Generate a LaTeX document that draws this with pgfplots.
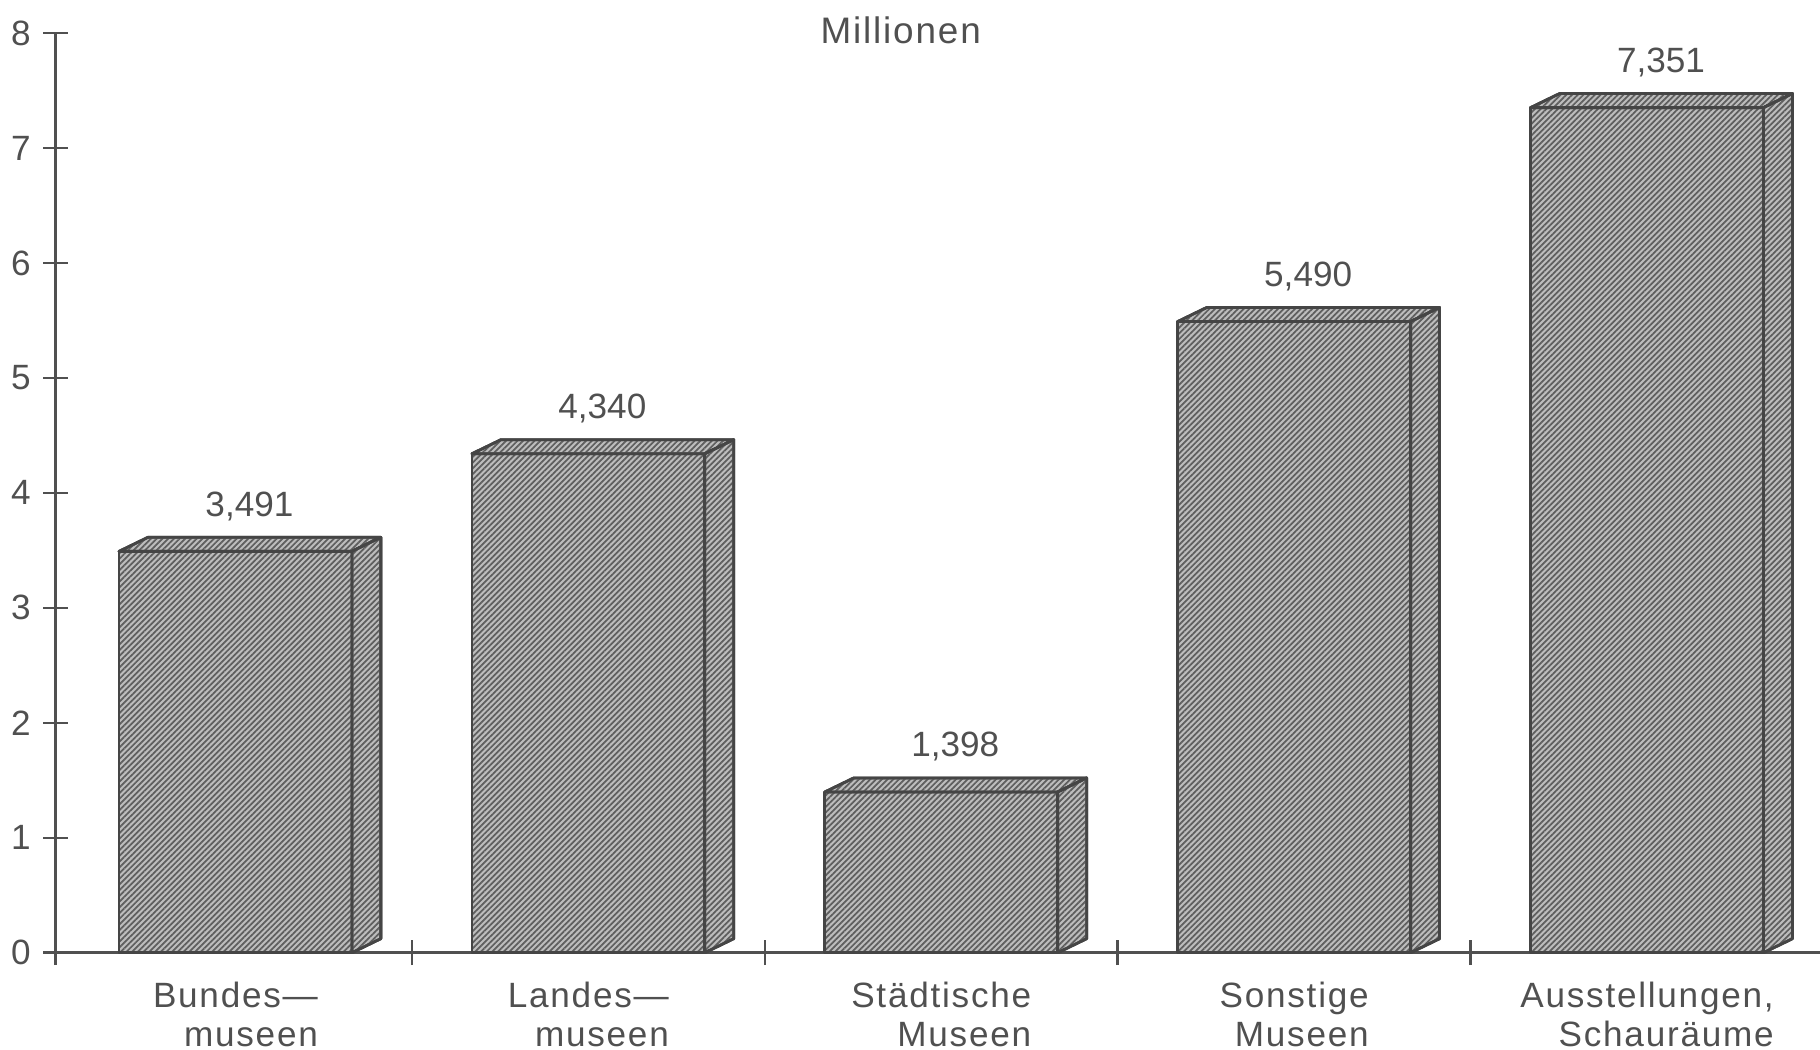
\documentclass[border=0pt]{standalone}
\usepackage{fontspec}
\setmainfont{Liberation Sans}[LetterSpace=5]
\newfontfamily\numfont{Liberation Sans}
\usepackage{pgfplots}
\usepackage{pgfplotstable}
\pgfplotsset{compat=1.18}
\usetikzlibrary{patterns.meta}

\definecolor{ink}{HTML}{505050}
\definecolor{edge}{HTML}{454545}
\definecolor{barfill}{HTML}{BDBDBD}
\definecolor{hatch}{HTML}{5E5E5E}

% Besucher in Millionen
\pgfplotstableread{
idx val
0 3.491
1 4.340
2 1.398
3 5.490
4 7.351
}\visitors

% half width of the front face, depth offsets of the boxes (axis units)
\def\hw{0.33}
\def\dx{0.082}
\def\dy{0.122}

\tikzset{
  boxface/.style={draw=edge, line width=0.8pt, line join=round, fill=barfill,
    postaction={pattern={Lines[angle=45,distance=1.15pt,line width=0.5pt]}, pattern color=hatch}},
}

\begin{document}
\begin{tikzpicture}
\begin{axis}[
  scale only axis, width=176.5mm, height=92mm,
  xmin=-0.51, xmax=4.49, ymin=0, ymax=8,
  axis lines=left,
  axis line style={-, draw=ink, line width=0.7pt},
  clip=false,
  xtick={-0.51,0.5,1.5,2.5,3.5}, xticklabels={},
  ytick={0,1,...,8},
  tick align=center, major tick length=7pt,
  tick style={draw=ink, line width=0.7pt},
  /pgf/number format/assume math mode=true,
  yticklabel style={font=\numfont\fontsize{10}{12}\selectfont, text=ink},
  extra x ticks={0,1,2,3,4},
  extra x tick labels={{Bundes—\\museen},{Landes—\\museen},{Städtische\\Museen},{Sonstige\\Museen},{Ausstellungen,\\Schauräume}},
  extra x tick style={major tick length=0pt,
    tick label style={align=right, anchor=north, text=ink,
      font=\fontsize{10}{11.2}\selectfont, yshift=-1.7mm}},
]
% front faces
\addplot[ybar, bar width=2*\hw, boxface] table[x=idx, y=val] {\visitors};

% top and side faces of each box
\pgfplotsforeachungrouped \i in {0,...,4}{
  \pgfplotstablegetelem{\i}{val}\of\visitors
  \let\v\pgfplotsretval
  \pgfmathsetmacro\xa{\i-\hw}
  \pgfmathsetmacro\xb{\i-\hw+\dx}
  \pgfmathsetmacro\xc{\i+\hw+\dx}
  \pgfmathsetmacro\xd{\i+\hw}
  \pgfmathsetmacro\vt{\v+\dy}
  \edef\faces{%
    \noexpand\addplot[boxface, mark=none] coordinates {(\xa,\v) (\xb,\vt) (\xc,\vt) (\xd,\v)} -- cycle;
    \noexpand\addplot[boxface, mark=none] coordinates {(\xd,0) (\xc,\dy) (\xc,\vt) (\xd,\v)} -- cycle;
  }%
  \faces
}

% value labels
\addplot[draw=none, mark=none,
  nodes near coords,
  nodes near coords style={font=\numfont\fontsize{10}{12}\selectfont, text=ink,
    anchor=base, yshift=3.5mm, xshift=1.4mm},
  /pgf/number format/.cd, fixed, fixed zerofill, precision=3, use comma]
  table[x=idx, y=val] {\visitors};

\node[anchor=base, text=ink, font=\fontsize{10.5}{12}\selectfont]
  at (rel axis cs:0.479,0.989) {Millionen};
\end{axis}
\pgfresetboundingbox
\path[use as bounding box]
  ([xshift=-5.55mm, yshift=-9.7mm]current axis.south west)
  rectangle ([yshift=3.3mm]current axis.north east);
\end{tikzpicture}
\end{document}
